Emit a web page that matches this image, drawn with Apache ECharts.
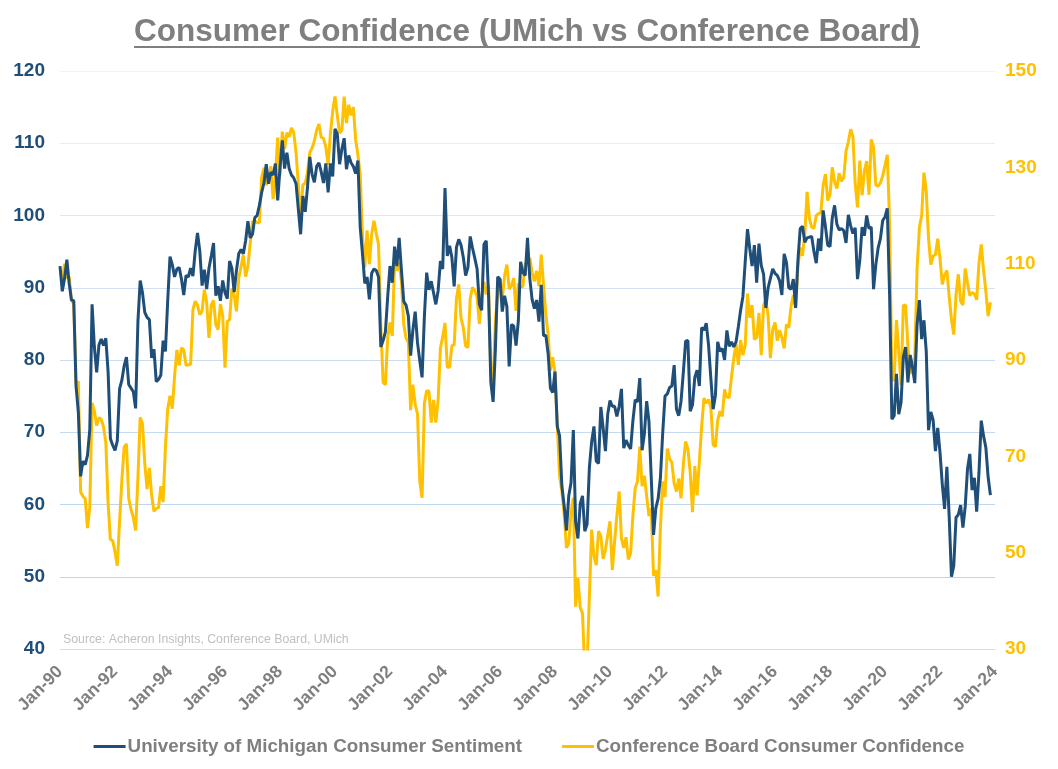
<!DOCTYPE html>
<html>
<head>
<meta charset="utf-8">
<script src="https://cdn.jsdelivr.net/npm/echarts@6/dist/echarts.min.js"></script>
<style>
html,body{margin:0;padding:0;background:#fff;}
#chart{width:1058px;height:769px;}
</style>
</head>
<body>
<div id="chart"></div>
<script>
// ---------- DATA ----------
const titleText = 'Consumer Confidence (UMich vs Conference Board)';
const sourceText = 'Source: Acheron Insights, Conference Board, UMich';
const seriesNames = ['University of Michigan Consumer Sentiment', 'Conference Board Consumer Confidence'];
const startYear = 1990;
const endYear = 2024; // axis runs Jan-1990 .. Jan-2024
const monthNames = ['Jan','Feb','Mar','Apr','May','Jun','Jul','Aug','Sep','Oct','Nov','Dec'];
const tickLabels = ['Jan-90','Jan-92','Jan-94','Jan-96','Jan-98','Jan-00','Jan-02','Jan-04','Jan-06','Jan-08','Jan-10','Jan-12','Jan-14','Jan-16','Jan-18','Jan-20','Jan-22','Jan-24'];

// University of Michigan Consumer Sentiment (monthly, Jan-1990 .. Nov-2023)
const umich = [
  93.0, 89.5, 91.3, 93.9, 90.6, 88.3, 88.2, 76.4, 72.8, 63.9, 66.0, 65.5,
  66.8, 70.4, 87.7, 81.8, 78.3, 82.1, 82.9, 82.0, 83.0, 78.3, 69.1, 68.2,
  67.5, 68.8, 76.0, 77.2, 79.2, 80.4, 76.6, 76.1, 75.6, 73.3, 85.3, 91.0,
  89.3, 86.6, 85.9, 85.6, 80.3, 81.5, 77.0, 77.3, 77.9, 82.7, 81.2, 88.2,
  94.3, 93.2, 91.5, 92.6, 92.8, 91.2, 89.0, 91.7, 91.5, 92.7, 91.6, 95.1,
  97.6, 95.1, 90.3, 92.5, 89.8, 92.7, 94.4, 96.2, 88.9, 90.2, 88.2, 91.0,
  89.3, 88.5, 93.7, 92.7, 89.4, 92.4, 94.7, 95.3, 94.7, 96.5, 99.2, 96.9,
  97.4, 99.7, 100.0, 101.4, 103.2, 104.5, 107.1, 104.4, 106.0, 105.6, 107.2, 102.1,
  106.6, 110.4, 106.5, 108.7, 106.5, 105.6, 105.2, 104.4, 100.9, 97.4, 102.7, 100.5,
  103.9, 108.1, 105.7, 104.6, 106.8, 107.3, 106.0, 104.5, 107.2, 103.2, 107.2, 105.4,
  112.0, 111.3, 107.1, 109.2, 110.7, 106.4, 108.3, 107.3, 106.8, 105.8, 107.6, 98.4,
  94.7, 90.6, 91.5, 88.4, 92.0, 92.6, 92.4, 91.5, 81.8, 82.7, 83.9, 88.8,
  93.0, 90.7, 95.7, 93.0, 96.9, 92.4, 88.1, 87.6, 86.1, 80.6, 84.2, 86.7,
  82.4, 79.9, 77.6, 86.0, 92.1, 89.7, 90.9, 89.3, 87.7, 89.6, 93.7, 92.6,
  103.8, 94.4, 95.8, 94.2, 90.2, 95.6, 96.7, 95.9, 94.2, 91.7, 92.8, 97.1,
  95.5, 94.1, 92.6, 87.7, 86.9, 96.0, 96.5, 89.1, 76.9, 74.2, 81.6, 91.5,
  91.2, 86.7, 88.9, 87.4, 79.1, 84.9, 84.7, 82.0, 85.4, 93.6, 92.1, 91.7,
  96.9, 91.3, 88.4, 87.1, 88.3, 85.3, 90.4, 83.4, 83.4, 80.9, 76.1, 75.5,
  78.4, 70.8, 69.5, 62.6, 59.8, 56.4, 61.2, 63.0, 70.3, 57.6, 55.3, 60.1,
  61.2, 56.3, 57.3, 65.1, 68.7, 70.8, 66.0, 65.7, 73.5, 70.6, 67.4, 72.5,
  74.4, 73.6, 73.6, 72.2, 73.6, 76.0, 67.8, 68.9, 68.2, 67.7, 71.6, 74.5,
  74.2, 77.5, 67.5, 69.8, 74.3, 71.5, 63.7, 55.8, 59.5, 60.8, 63.7, 69.9,
  75.0, 75.3, 76.2, 76.4, 79.3, 73.2, 72.3, 74.3, 78.3, 82.6, 82.7, 72.9,
  73.8, 77.6, 78.6, 76.4, 84.5, 84.1, 85.1, 82.1, 77.5, 73.2, 75.1, 82.5,
  81.2, 81.6, 80.0, 84.1, 81.9, 82.5, 81.8, 82.5, 84.6, 86.9, 88.8, 93.6,
  98.1, 95.4, 93.0, 95.9, 90.7, 96.1, 93.1, 91.9, 87.2, 90.0, 91.3, 92.6,
  92.0, 91.7, 91.0, 89.0, 94.7, 93.5, 90.0, 89.8, 91.2, 87.2, 93.8, 98.2,
  98.5, 96.3, 96.9, 97.0, 97.1, 95.0, 93.4, 96.8, 95.1, 100.7, 98.5, 95.9,
  95.7, 99.7, 101.4, 98.8, 98.0, 98.2, 97.9, 96.2, 100.1, 98.6, 97.5, 98.3,
  91.2, 93.8, 98.4, 97.2, 100.0, 98.2, 98.4, 89.8, 93.2, 95.5, 96.8, 99.3,
  99.8, 101.0, 89.1, 71.8, 72.3, 78.1, 72.5, 74.1, 80.4, 81.8, 76.9, 80.7,
  79.0, 76.8, 84.9, 88.3, 82.9, 85.5, 81.2, 70.3, 72.8, 71.7, 67.4, 70.6,
  67.2, 62.8, 59.4, 65.2, 58.4, 50.0, 51.5, 58.2, 58.6, 59.9, 56.8, 59.7,
  64.9, 67.0, 62.0, 63.7, 59.0, 64.4, 71.6, 69.5, 67.9, 63.8, 61.3
];

// Conference Board Consumer Confidence (monthly, Jan-1990 .. Nov-2023)
const confBoard = [
  106.6, 106.6, 110.0, 107.0, 107.3, 102.4, 101.7, 85.1, 85.6, 62.6, 61.7, 61.2,
  55.1, 59.4, 81.1, 79.4, 76.4, 78.0, 77.7, 76.1, 72.9, 60.1, 52.7, 52.5,
  50.2, 47.3, 56.5, 65.1, 71.9, 72.6, 61.2, 59.0, 57.3, 54.6, 65.6, 78.1,
  76.7, 68.5, 63.2, 67.6, 61.9, 58.6, 59.2, 59.3, 63.8, 60.5, 71.9, 79.8,
  82.6, 79.9, 86.7, 92.1, 88.9, 92.5, 92.1, 88.9, 89.0, 89.1, 100.4, 102.2,
  101.4, 99.4, 100.2, 104.6, 102.0, 94.6, 101.4, 102.4, 97.3, 96.3, 101.6, 99.2,
  88.4, 98.0, 98.4, 104.8, 103.5, 100.1, 107.0, 109.4, 111.8, 107.3, 109.5, 114.2,
  118.7, 118.9, 118.5, 118.5, 127.9, 129.9, 126.3, 127.6, 130.2, 123.4, 128.1, 136.2,
  128.3, 137.4, 133.8, 137.2, 136.3, 138.2, 137.2, 133.1, 126.4, 119.3, 126.4, 126.7,
  128.9, 133.1, 134.0, 135.5, 137.7, 139.0, 136.2, 136.0, 134.2, 130.5, 137.0, 141.7,
  144.7, 140.8, 137.1, 137.7, 144.7, 139.2, 143.0, 140.8, 142.5, 135.8, 132.6, 128.6,
  115.7, 109.2, 116.9, 109.9, 116.1, 118.9, 116.3, 114.0, 97.0, 85.3, 84.9, 94.6,
  97.8, 95.0, 110.7, 108.5, 110.3, 106.3, 97.4, 94.5, 93.7, 79.6, 84.9, 80.7,
  78.8, 64.8, 61.4, 81.0, 83.6, 83.5, 77.0, 81.7, 77.0, 81.7, 92.5, 94.8,
  97.7, 88.5, 88.5, 93.0, 93.1, 102.8, 105.7, 98.7, 96.7, 92.9, 92.6, 102.7,
  105.1, 104.4, 103.0, 97.5, 103.1, 106.2, 103.6, 105.5, 87.5, 85.2, 98.3, 103.8,
  106.8, 102.7, 107.5, 109.8, 104.7, 105.4, 107.0, 100.2, 105.9, 105.1, 105.3, 110.0,
  110.2, 111.2, 108.2, 106.3, 108.5, 105.3, 111.9, 105.6, 99.5, 95.2, 87.8, 90.6,
  87.3, 76.4, 65.9, 62.8, 58.1, 51.0, 51.9, 58.5, 61.4, 38.8, 44.7, 38.6,
  37.4, 25.3, 26.9, 40.8, 54.8, 49.3, 47.4, 54.5, 53.4, 48.7, 50.6, 53.6,
  56.5, 46.4, 52.3, 57.7, 62.7, 52.9, 51.0, 53.2, 48.6, 49.9, 57.8, 63.4,
  64.8, 72.0, 63.8, 66.0, 61.7, 57.6, 59.2, 45.2, 46.4, 40.9, 55.2, 64.8,
  61.5, 71.6, 69.5, 68.7, 64.4, 62.7, 65.4, 61.3, 68.4, 73.1, 71.5, 66.7,
  58.4, 68.0, 61.9, 69.0, 76.2, 82.1, 81.0, 81.8, 80.2, 72.4, 72.0, 77.5,
  79.4, 78.3, 83.9, 82.3, 82.2, 86.4, 90.3, 93.4, 89.0, 94.1, 91.0, 93.1,
  103.8, 98.8, 101.4, 94.3, 94.6, 99.8, 91.0, 101.3, 102.6, 99.1, 90.4, 96.3,
  97.8, 94.0, 96.2, 94.7, 92.4, 97.4, 96.7, 101.1, 103.5, 100.8, 109.4, 113.3,
  111.6, 116.1, 124.9, 119.4, 117.6, 117.3, 120.0, 120.4, 120.6, 126.2, 128.6, 123.1,
  124.3, 130.0, 127.0, 125.6, 128.8, 127.1, 127.9, 133.4, 135.3, 137.9, 136.4, 126.6,
  121.7, 131.4, 124.2, 129.2, 131.3, 124.3, 135.8, 134.2, 126.3, 126.1, 126.8, 128.2,
  130.4, 132.6, 118.8, 85.7, 85.9, 98.3, 91.7, 84.8, 101.3, 101.4, 92.9, 87.1,
  88.9, 90.4, 109.0, 117.5, 120.0, 128.9, 125.1, 115.2, 109.8, 111.6, 111.9, 115.2,
  111.1, 105.7, 107.6, 108.6, 103.2, 98.4, 95.3, 103.6, 107.8, 102.2, 101.4, 109.0,
  106.0, 103.4, 104.0, 103.7, 102.5, 110.1, 114.0, 108.7, 104.3, 99.1, 102.0
];

// ---------- CATEGORIES ----------
const categories = [];
for (let y = startYear; y <= endYear; y++) {
  for (let m = 0; m < 12; m++) {
    if (y === endYear && m > 0) break;
    categories.push(monthNames[m] + '-' + String(y).slice(2));
  }
}

// ---------- STYLE ----------
const blue = '#1F4E79';
const gold = '#FFC000';
const gray = '#7F7F7F';
const fontFam = '"Liberation Sans", Arial, sans-serif';
const gridColors = ['#D3DDE8', '#BDD7EE', '#BDD7EE', '#C3DAEF', '#C9DDF0', '#D2E2F2', '#DCE7F3', '#E6EDF5', '#F0F2F5'];

const chart = echarts.init(document.getElementById('chart'), null, {renderer: 'canvas'});

const titleFont = 'bold 31.5px ' + fontFam;
const mctx = document.createElement('canvas').getContext('2d');
mctx.font = titleFont;
const titleW = mctx.measureText(titleText).width;
const titleCx = 527;

const option = {
  animation: false,
  backgroundColor: '#ffffff',
  grid: {left: 60, right: 63, top: 71, bottom: 120, containLabel: false},
  legend: {
    data: seriesNames,
    left: 'center',
    top: 732,
    icon: 'rect',
    itemWidth: 32,
    itemHeight: 3,
    itemGap: 40,
    textStyle: {color: gray, fontSize: 18.8, fontWeight: 'bold', fontFamily: fontFam, padding: [0, 0, 0, -3]}
  },
  xAxis: {
    type: 'category',
    data: categories,
    boundaryGap: false,
    axisLine: {show: false},
    axisTick: {show: false},
    splitLine: {show: false},
    axisLabel: {
      interval: function (idx) { return idx % 24 === 0; },
      formatter: function (val) { return tickLabels.indexOf(val) >= 0 ? val : ''; },
      rotate: 45,
      margin: 20,
      color: gray,
      fontSize: 17.5,
      fontWeight: 'bold',
      fontFamily: fontFam
    }
  },
  yAxis: [
    {
      type: 'value', min: 40, max: 120, interval: 10, position: 'left',
      axisLine: {show: false}, axisTick: {show: false},
      splitLine: {show: true, lineStyle: {color: gridColors, width: 1}},
      axisLabel: {color: blue, fontSize: 19, fontWeight: 'bold', fontFamily: fontFam, margin: 15}
    },
    {
      type: 'value', min: 30, max: 150, interval: 20, position: 'right',
      axisLine: {show: false}, axisTick: {show: false},
      splitLine: {show: false},
      axisLabel: {color: gold, fontSize: 19, fontWeight: 'bold', fontFamily: fontFam, margin: 10}
    }
  ],
  series: [
    {
      name: seriesNames[0], type: 'line', yAxisIndex: 0, data: umich,
      showSymbol: false, symbol: 'none', clip: true, z: 3,
      lineStyle: {color: blue, width: 3}, itemStyle: {color: blue}
    },
    {
      name: seriesNames[1], type: 'line', yAxisIndex: 1, data: confBoard,
      showSymbol: false, symbol: 'none', clip: true, z: 2,
      lineStyle: {color: gold, width: 3}, itemStyle: {color: gold}
    }
  ],
  graphic: [
    {
      type: 'text', left: titleCx - titleW / 2, top: 16,
      style: {text: titleText, font: titleFont, fill: gray}
    },
    {
      type: 'rect', left: titleCx - titleW / 2, top: 46,
      shape: {width: titleW, height: 2},
      style: {fill: gray}
    },
    {
      type: 'text', left: 63, top: 634,
      style: {text: sourceText, font: '12.3px ' + fontFam, fill: '#C0C0C0'}
    }
  ]
};
chart.setOption(option);
</script>
</body>
</html>
